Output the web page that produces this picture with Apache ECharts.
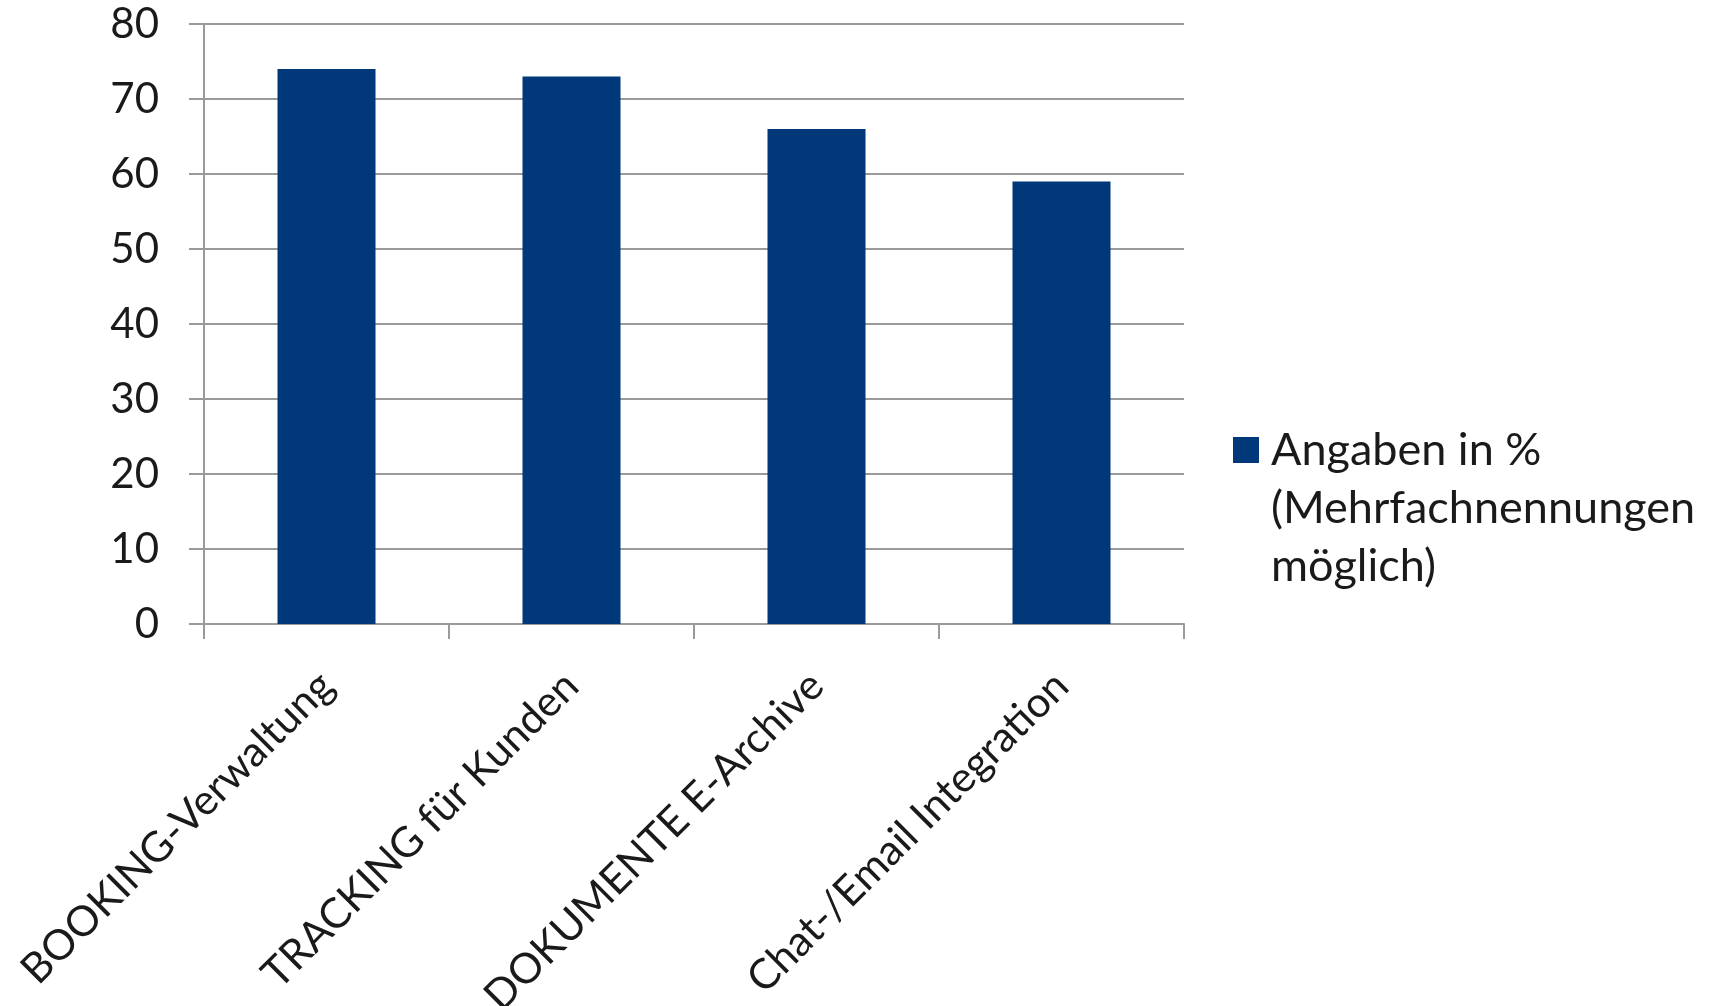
<!DOCTYPE html>
<html>
<head>
<meta charset="utf-8">
<script src="https://cdn.jsdelivr.net/npm/echarts@6/dist/echarts.min.js"></script>
<style>html,body{margin:0;padding:0;background:#fff}#c{width:1710px;height:1006px}</style>
</head>
<body>
<div id="c"></div>
<script>
const categories = ['BOOKING-Verwaltung', 'TRACKING für Kunden', 'DOKUMENTE E-Archive', 'Chat-/Email Integration'];
const values = [74, 73, 66, 59];
const seriesName = 'Angaben in %\n(Mehrfachnennungen\nmöglich)';
const yTicks = { min: 0, max: 80, interval: 10 };

const FONT = 'Lato';
const FS = 42;
const LFS = 45;
const LH = 58;
const chart = echarts.init(document.getElementById('c'));
chart.setOption({
  animation: false,
  textStyle: { fontFamily: FONT },
  grid: { left: 204, right: 526, top: 24, bottom: 382, containLabel: false, outerBoundsMode: 'none' },
  legend: {
    left: 1233, top: 437 - 2 * LH - (LH - 26) / 2,
    padding: 0,
    orient: 'vertical',
    icon: 'path://M0,0H10V10H0Z',
    symbolKeepAspect: true,
    itemWidth: 40, itemHeight: 26,
    formatter: name => '\n\n' + name,
    textStyle: { fontSize: LFS, color: '#1a1a1a', fontFamily: FONT, lineHeight: LH },
    data: [seriesName]
  },
  xAxis: {
    type: 'category',
    data: categories,
    axisLine: { lineStyle: { color: '#9a9a9a', width: 2 } },
    axisTick: { show: true, length: 15, lineStyle: { color: '#9a9a9a', width: 2 } },
    axisLabel: { rotate: 45, fontSize: FS, color: '#1a1a1a', margin: 55, interval: 0, fontFamily: FONT }
  },
  yAxis: {
    type: 'value',
    min: yTicks.min, max: yTicks.max, interval: yTicks.interval,
    axisLine: { show: true, lineStyle: { color: '#9a9a9a', width: 2 } },
    axisTick: { show: true, length: 15, lineStyle: { color: '#9a9a9a', width: 2 } },
    splitLine: { lineStyle: { color: '#9a9a9a', width: 2 } },
    axisLabel: { fontSize: FS, color: '#1a1a1a', margin: 45, fontFamily: FONT }
  },
  series: [{
    name: seriesName,
    type: 'bar',
    data: values,
    barWidth: '40%',
    itemStyle: { color: '#003879' }
  }]
});
</script>
</body>
</html>
